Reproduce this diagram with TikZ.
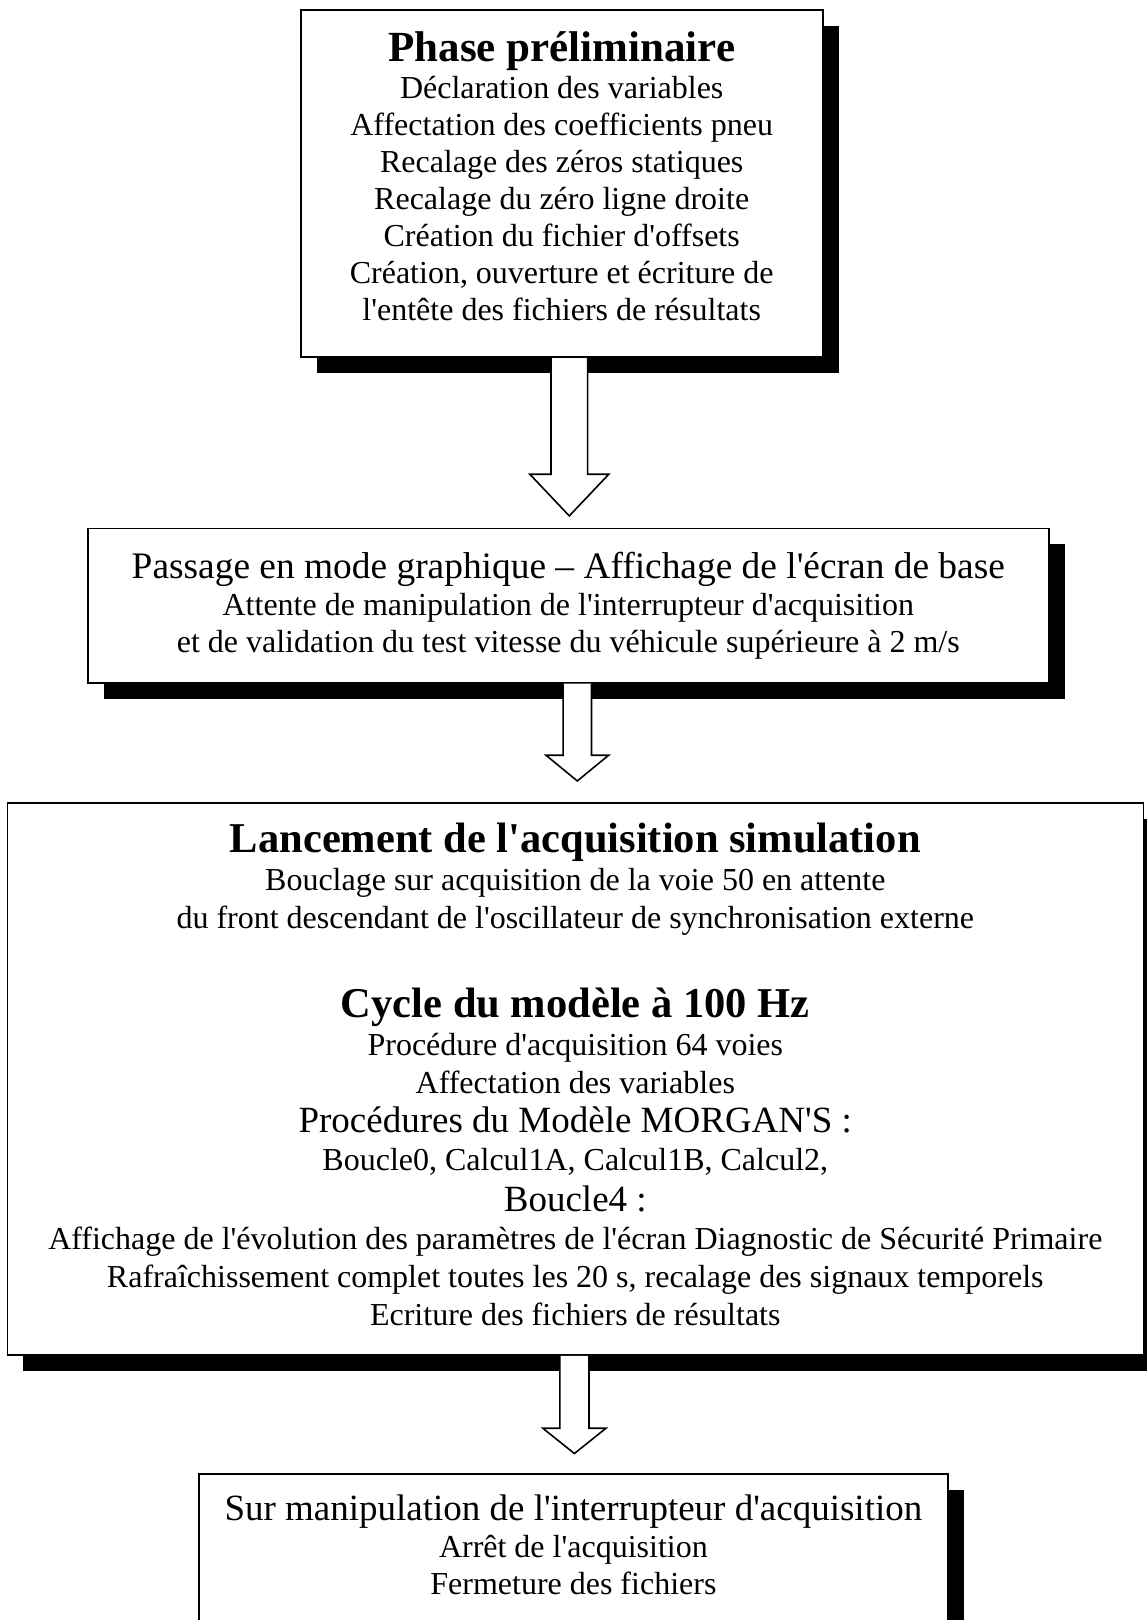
\documentclass[tikz,border=0pt]{standalone}
\usepackage{fontspec}
\defaultfontfeatures[\rmfamily,\sffamily]{}
\setmainfont{Liberation Serif}
\usetikzlibrary{calc,shadows,positioning}

\newcommand{\phasetitle}[2][45]{{\fontsize{#1}{#1}\selectfont\bfseries #2}}
\newcommand{\phasehead}[2][37]{{\fontsize{#1}{#1}\selectfont #2}}

\begin{document}
\begin{tikzpicture}[x=1pt, y=-1pt,
    stage/.style={draw, line width=1.6pt, fill=white, align=center, inner sep=0pt,
      font=\fontsize{32}{37}\selectfont,
      drop shadow={shadow xshift=16pt, shadow yshift=-16pt, fill=black, opacity=1}},
    bigarrow/.style={draw, line width=1.6pt, fill=white, line join=miter}]

\useasboundingbox (0,0) rectangle (1147,1620);

% Boxes
\node[stage, minimum width=522pt, minimum height=347pt] (prelim) at (561.7,183.7) {
  \phasetitle[43]{Phase préliminaire}\\
  Déclaration des variables\\
  Affectation des coefficients pneu\\
  Recalage des zéros statiques\\
  Recalage du zéro ligne droite\\
  Création du fichier d'offsets\\
  Création, ouverture et écriture de\\
  l'entête des fichiers de résultats\rule[-15pt]{0pt}{15pt}};

\node[stage, minimum width=961pt, minimum height=154.4pt] (graphique) at (568.3,605.5) {
  \phasehead[37.4]{Passage en mode graphique – Affichage de l'écran de base}\\
  Attente de manipulation de l'interrupteur d'acquisition\\
  et de validation du test vitesse du véhicule supérieure à 2 m/s};

\node[stage, font=\fontsize{32}{38}\selectfont, minimum width=1136pt, minimum height=552.3pt] (acquisition) at (575.3,1078.9) {
  \phasetitle[42.5]{Lancement de l'acquisition simulation}\\
  Bouclage sur acquisition de la voie 50 en attente\\
  du front descendant de l'oscillateur de synchronisation externe\\[51pt]
  \phasetitle[42.5]{Cycle du modèle à 100 Hz}\\
  Procédure d'acquisition 64 voies\\
  Affectation des variables\\[1.5pt]
  \phasehead{Procédures du Modèle MORGAN'S :}\\
  Boucle0, Calcul1A, Calcul1B, Calcul2,\\[3pt]
  \phasehead{Boucle4 :}\\
  Affichage de l'évolution des paramètres de l'écran Diagnostic de Sécurité Primaire\\
  Rafraîchissement complet toutes les 20 s, recalage des signaux temporels\\
  Ecriture des fichiers de résultats\rule[-9pt]{0pt}{9pt}};

\node[stage, minimum width=748.7pt, minimum height=166pt] (arret) at (573.4,1557) {
  \phasehead{Sur manipulation de l'interrupteur d'acquisition}\\
  Arrêt de l'acquisition\\
  Fermeture des fichiers\rule[-24pt]{0pt}{24pt}};

% Block arrows
\coordinate (tip1) at ($(graphique.north)+(1,-11.6)$);
\coordinate (base1) at (prelim.south -| tip1);
\draw[bigarrow] ($(base1)+(-18.3,0)$) -- ($(tip1)+(-18.3,-41.7)$) -- ($(tip1)+(-39.5,-41.7)$)
  -- (tip1) -- ($(tip1)+(39.5,-41.7)$) -- ($(tip1)+(18.3,-41.7)$) -- ($(base1)+(18.3,0)$);

\coordinate (tip2) at ($(acquisition.north)+(2,-21)$);
\coordinate (base2) at (graphique.south -| tip2);
\draw[bigarrow] ($(base2)+(-14.2,0)$) -- ($(tip2)+(-14.2,-25.7)$) -- ($(tip2)+(-31.3,-25.7)$)
  -- (tip2) -- ($(tip2)+(31.3,-25.7)$) -- ($(tip2)+(14.2,-25.7)$) -- ($(base2)+(14.2,0)$);

\coordinate (tip3) at ($(arret.north)+(1,-19.7)$);
\coordinate (base3) at (acquisition.south -| tip3);
\draw[bigarrow] ($(base3)+(-14.6,0)$) -- ($(tip3)+(-14.6,-25.3)$) -- ($(tip3)+(-31.6,-25.3)$)
  -- (tip3) -- ($(tip3)+(31.6,-25.3)$) -- ($(tip3)+(14.6,-25.3)$) -- ($(base3)+(14.6,0)$);

\end{tikzpicture}
\end{document}
